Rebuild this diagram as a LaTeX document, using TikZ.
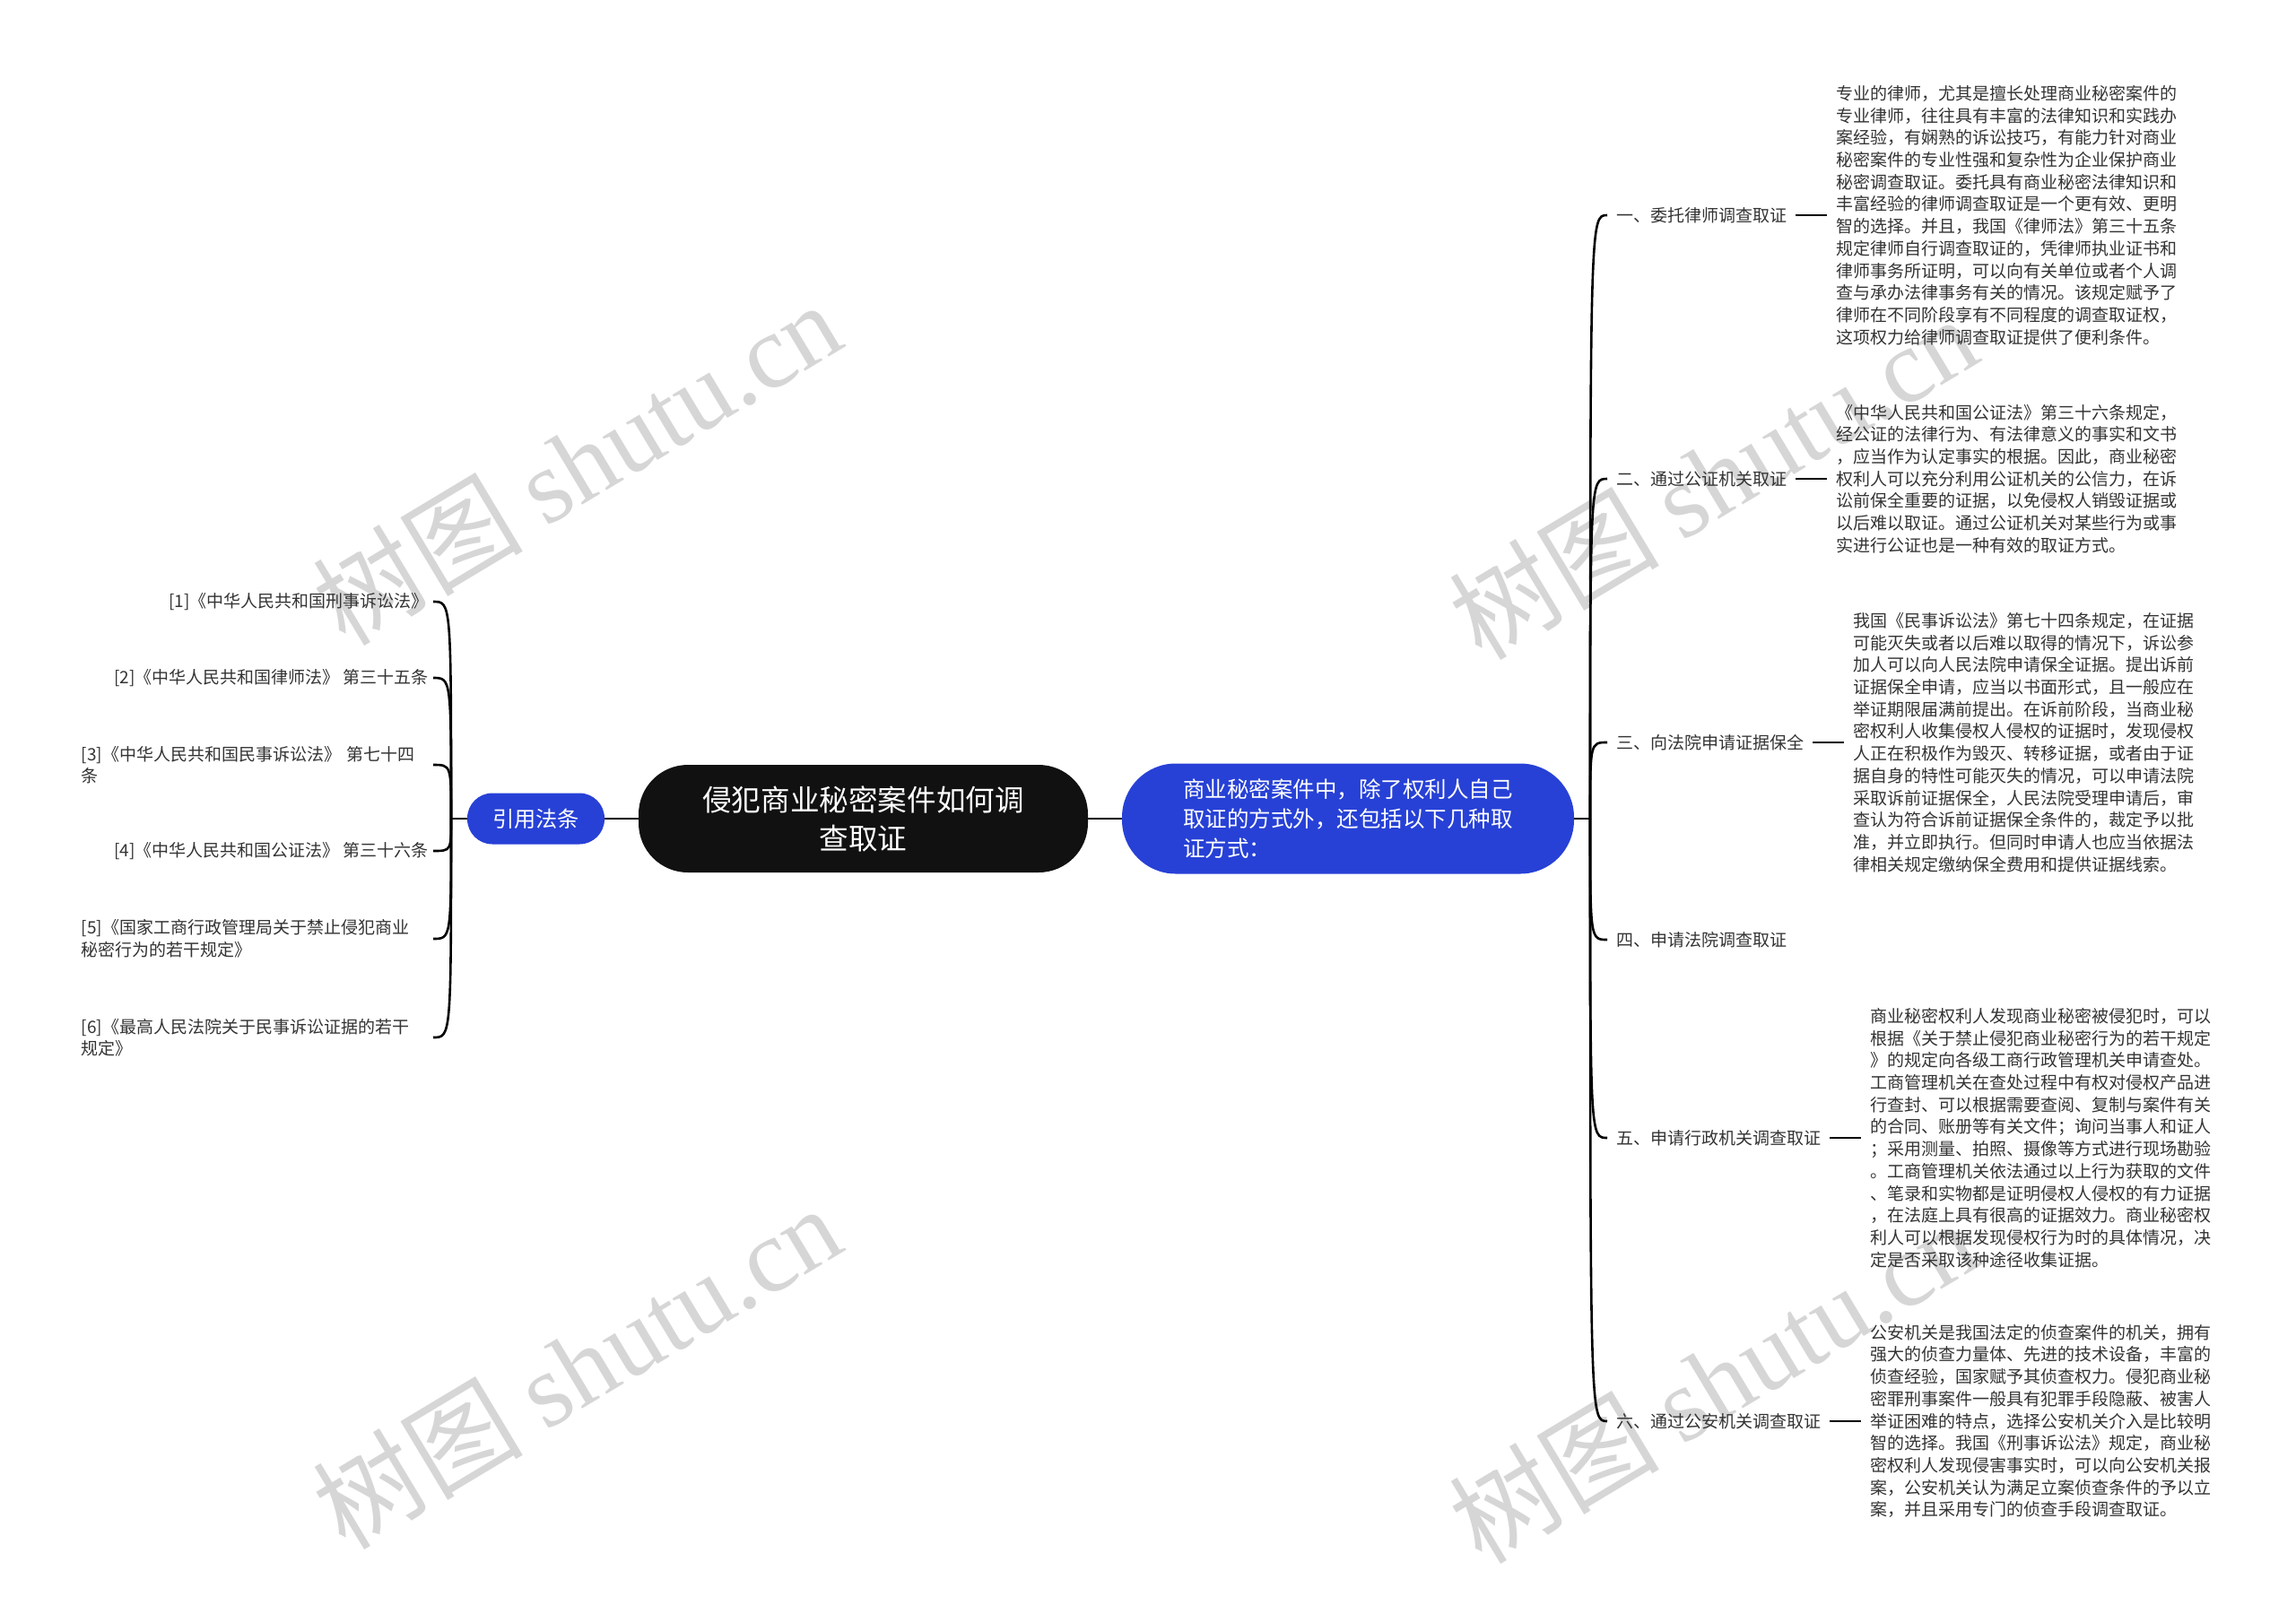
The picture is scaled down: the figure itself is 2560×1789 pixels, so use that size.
\documentclass[tikz,border=0pt]{standalone}
\usepackage{fontspec}
\newfontfamily\cjk{Noto Sans CJK SC}
\newfontfamily\wmlatin{Liberation Serif}
\usetikzlibrary{positioning}

\definecolor{topicblue}{HTML}{2741D6}
\definecolor{rootblack}{HTML}{111111}
\definecolor{textgray}{HTML}{333333}
\definecolor{wmgray}{HTML}{D6D6D6}

\tikzset{
  rootbox/.style={fill=rootblack, text=white, rounded corners=55pt, minimum width=501pt, minimum height=120pt,
    align=center, inner sep=0pt, font=\cjk\fontsize{32.6}{43}\selectfont},
  mainbox/.style={fill=topicblue, text=white, rounded corners=60pt, minimum width=504pt, minimum height=123pt,
    align=left, inner sep=0pt, font=\cjk\fontsize{24.5}{32.7}\selectfont},
  citebox/.style={fill=topicblue, text=white, rounded corners=28pt, minimum width=153pt, minimum height=57pt,
    inner sep=0pt, font=\cjk\fontsize{24.2}{29}\selectfont},
  lawitem/.style={anchor=east, align=left, inner xsep=5pt, inner ysep=0pt, text=textgray,
    font=\cjk\fontsize{19}{24.5}\selectfont},
  wayitem/.style={anchor=west, inner xsep=10pt, inner ysep=0pt, text=textgray,
    font=\cjk\fontsize{19}{24.5}\selectfont},
  wayinfo/.style={align=left, inner xsep=10pt, inner ysep=0pt, text=textgray,
    font=\cjk\fontsize{19}{24.7}\selectfont},
  link/.style={draw=black, line width=2.6pt},
  wmark/.style={text=wmgray, rotate=31, inner sep=0pt, font=\cjk\fontsize{117}{117}\selectfont}
}

\begin{document}
\begin{tikzpicture}[x=1pt, y=-1pt]
\useasboundingbox (0,0) rectangle (2560,1789);

% watermarks
\foreach \wx/\wy [count=\wi] in {643/516, 643/1524, 1910/532, 1910/1540}
  \node[wmark] (wm\wi) at (\wx,\wy) {树图 {\wmlatin shutu.cn}};

% centre
\node[rootbox] (root) at (962.5,913) {侵犯商业秘密案件如何调\\查取证};
\node[mainbox] (main) at (1503,913) {商业秘密案件中，除了权利人自己\\取证的方式外，还包括以下几种取\\证方式：};
\node[citebox] (cite) at (597.5,913) {引用法条};

\coordinate (jl) at (503,913);
\coordinate (jr) at (1773,913);

\draw[link] (root) -- (main);
\draw[link] (main.east) -- (jr);
\draw[link] (root) -- (cite);
\draw[link] (cite.west) -- (jl);

% left: laws
\node[lawitem] (c1) at (483,671) {[1]《中华人民共和国刑事诉讼法》};
\node[lawitem] (c2) at (483,756) {[2]《中华人民共和国律师法》~第三十五条};
\node[lawitem, text width=387pt] (c3) at (483,853) {[3]《中华人民共和国民事诉讼法》~第七十四\\条};
\node[lawitem] (c4) at (483,949) {[4]《中华人民共和国公证法》~第三十六条};
\node[lawitem, text width=387pt] (c5) at (483,1047) {[5]《国家工商行政管理局关于禁止侵犯商业\\秘密行为的若干规定》};
\node[lawitem, text width=387pt] (c6) at (483,1157) {[6]《最高人民法院关于民事诉讼证据的若干\\规定》};

% right: ways
\node[wayitem] (l1) at (1792,240) {一、委托律师调查取证};
\node[wayitem] (l2) at (1792,534) {二、通过公证机关取证};
\node[wayitem] (l3) at (1792,828) {三、向法院申请证据保全};
\node[wayitem] (l4) at (1792,1048) {四、申请法院调查取证};
\node[wayitem] (l5) at (1792,1269) {五、申请行政机关调查取证};
\node[wayitem] (l6) at (1792,1585) {六、通过公安机关调查取证};

\node[wayinfo, right=35pt of l1] (d1) {专业的律师，尤其是擅长处理商业秘密案件的\\专业律师，往往具有丰富的法律知识和实践办\\案经验，有娴熟的诉讼技巧，有能力针对商业\\秘密案件的专业性强和复杂性为企业保护商业\\秘密调查取证。委托具有商业秘密法律知识和\\丰富经验的律师调查取证是一个更有效、更明\\智的选择。并且，我国《律师法》第三十五条\\规定律师自行调查取证的，凭律师执业证书和\\律师事务所证明，可以向有关单位或者个人调\\查与承办法律事务有关的情况。该规定赋予了\\律师在不同阶段享有不同程度的调查取证权，\\这项权力给律师调查取证提供了便利条件。};
\node[wayinfo, right=35pt of l2] (d2) {《中华人民共和国公证法》第三十六条规定，\\经公证的法律行为、有法律意义的事实和文书\\，应当作为认定事实的根据。因此，商业秘密\\权利人可以充分利用公证机关的公信力，在诉\\讼前保全重要的证据，以免侵权人销毁证据或\\以后难以取证。通过公证机关对某些行为或事\\实进行公证也是一种有效的取证方式。};
\node[wayinfo, right=35pt of l3] (d3) {我国《民事诉讼法》第七十四条规定，在证据\\可能灭失或者以后难以取得的情况下，诉讼参\\加人可以向人民法院申请保全证据。提出诉前\\证据保全申请，应当以书面形式，且一般应在\\举证期限届满前提出。在诉前阶段，当商业秘\\密权利人收集侵权人侵权的证据时，发现侵权\\人正在积极作为毁灭、转移证据，或者由于证\\据自身的特性可能灭失的情况，可以申请法院\\采取诉前证据保全，人民法院受理申请后，审\\查认为符合诉前证据保全条件的，裁定予以批\\准，并立即执行。但同时申请人也应当依据法\\律相关规定缴纳保全费用和提供证据线索。};
\node[wayinfo, right=35pt of l5] (d5) {商业秘密权利人发现商业秘密被侵犯时，可以\\根据《关于禁止侵犯商业秘密行为的若干规定\\》的规定向各级工商行政管理机关申请查处。\\工商管理机关在查处过程中有权对侵权产品进\\行查封、可以根据需要查阅、复制与案件有关\\的合同、账册等有关文件；询问当事人和证人\\；采用测量、拍照、摄像等方式进行现场勘验\\。工商管理机关依法通过以上行为获取的文件\\、笔录和实物都是证明侵权人侵权的有力证据\\，在法庭上具有很高的证据效力。商业秘密权\\利人可以根据发现侵权行为时的具体情况，决\\定是否采取该种途径收集证据。};
\node[wayinfo, right=35pt of l6] (d6) {公安机关是我国法定的侦查案件的机关，拥有\\强大的侦查力量体、先进的技术设备，丰富的\\侦查经验，国家赋予其侦查权力。侵犯商业秘\\密罪刑事案件一般具有犯罪手段隐蔽、被害人\\举证困难的特点，选择公安机关介入是比较明\\智的选择。我国《刑事诉讼法》规定，商业秘\\密权利人发现侵害事实时，可以向公安机关报\\案，公安机关认为满足立案侦查条件的予以立\\案，并且采用专门的侦查手段调查取证。};

% connectors
\foreach \i in {1,...,6} {
  \draw[link] (jl) .. controls (jl |- c\i.east) .. (c\i.east);
  \draw[link] (jr) .. controls (jr |- l\i.west) .. (l\i.west);
}
\foreach \i in {1,2,3,5,6}
  \draw[link] (l\i) -- (d\i);
\end{tikzpicture}
\end{document}
